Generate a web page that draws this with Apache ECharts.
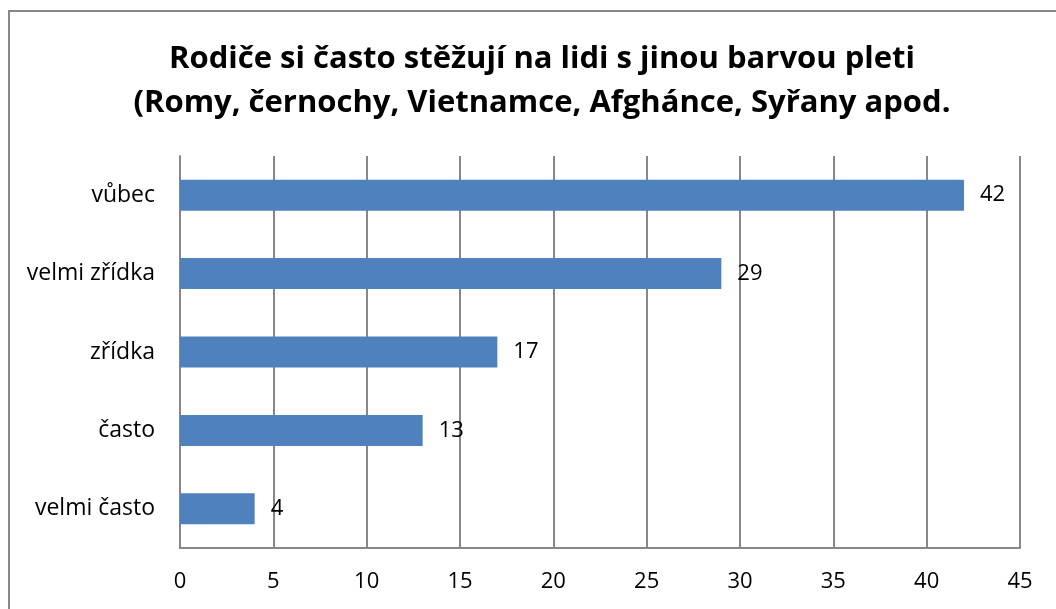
<!DOCTYPE html>
<html>
<head>
<meta charset="utf-8">
<script src="https://cdn.jsdelivr.net/npm/echarts@6/dist/echarts.min.js"></script>
<style>
  html, body { margin: 0; padding: 0; background: #fff; }
  #frame { position: absolute; left: 8px; top: 10px; width: 1060px; height: 620px; border: 2px solid #878787; box-sizing: border-box; }
  #chart { position: absolute; left: 0; top: 0; width: 1056px; height: 609px; }
</style>
</head>
<body>
<div id="frame"></div>
<div id="chart"></div>
<script>
// data
const categories = ['velmi často', 'často', 'zřídka', 'velmi zřídka', 'vůbec']
const values = [4, 13, 17, 29, 42]
const titleText = 'Rodiče si často stěžují na lidi s jinou barvou pleti\n(Romy, černochy, Vietnamce, Afghánce, Syřany apod.'

const chart = echarts.init(document.getElementById('chart'))
chart.setOption({
  animation: false,
  textStyle: { fontFamily: 'Open Sans' },
  title: {
    text: titleText,
    left: 537,
    textAlign: 'center',
    top: 32,
    textStyle: {
      fontFamily: 'Open Sans',
      fontSize: 31,
      fontWeight: 'bold',
      color: '#000',
      lineHeight: 44
    }
  },
  grid: {
    left: 180,
    right: 36,
    top: 156,
    bottom: 61
  },
  xAxis: {
    type: 'value',
    min: 0,
    max: 45,
    interval: 5,
    axisLine: { show: true, lineStyle: { color: '#878787', width: 2 } },
    axisTick: { show: false },
    axisLabel: { color: '#000', fontSize: 22, margin: 23 },
    splitLine: { show: true, lineStyle: { color: '#878787', width: 2 } }
  },
  yAxis: {
    type: 'category',
    data: categories,
    axisLine: { show: true, lineStyle: { color: '#878787', width: 2 } },
    axisTick: { show: false },
    axisLabel: { color: '#000', fontSize: 23, margin: 25 }
  },
  series: [
    {
      type: 'bar',
      data: values,
      barWidth: 31,
      itemStyle: { color: '#4F81BD' },
      label: {
        show: true,
        position: 'right',
        distance: 16,
        color: '#000',
        fontSize: 22
      }
    }
  ]
})
</script>
</body>
</html>
